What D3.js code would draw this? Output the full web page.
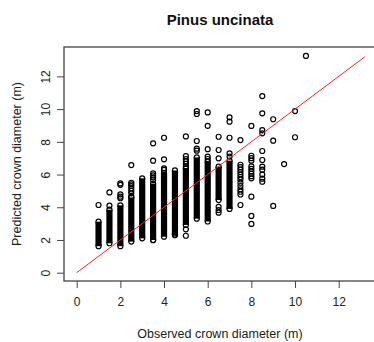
<!DOCTYPE html>
<html>
<head>
<meta charset="utf-8">
<script src="https://cdn.jsdelivr.net/npm/d3@7"></script>
<style>
body { margin: 0; background: #fff; }
svg { display: block; font-family: "Liberation Sans", Arial, sans-serif; }
.tick text { fill: #222; font-size: 12px; }
</style>
</head>
<body>
<script>
// dense columns of overlapping circles (observed value, low / high predicted)
var bandObs  = [1, 1.5, 2, 2.5, 3, 3.5, 4, 4.5, 5, 5.5, 6, 6.5, 7];
var bandLow  = [1.62, 1.8, 1.62, 1.9, 2.1, 2.0, 2.2, 2.3, 2.92, 3.3, 3.13, 4.44, 3.9];
var bandHigh = [3.12, 3.85, 4.12, 4.6, 5.77, 5.45, 6.1, 6.25, 6.4, 7.05, 6.8, 6.48, 6.85];

// single points outside the dense columns, grouped by observed value
var sparseObs = [1, 1.5, 2, 2.5, 3.5, 4, 4.5, 5, 5.5, 6, 6.5, 7, 7.5, 8, 8.5, 9, 9.5, 10, 10.5];
var sparsePred = [
    [4.14],
    [4.91, 4.10],
    [5.46, 5.37, 4.79, 4.65, 4.55],
    [6.58, 5.5, 5.4, 5.3, 5.15, 5.0, 4.85, 4.65],
    [7.91, 6.85, 6.07, 5.95, 5.83, 5.67, 1.99],
    [8.25, 6.93, 6.38, 6.28],
    [2.4, 2.3],
    [8.33, 7.13, 6.95, 6.8, 6.65, 6.5, 2.65, 2.26],
    [9.88, 9.7, 8.05, 7.58, 7.46],
    [9.8, 8.98, 7.55, 7.09, 6.95],
    [8.31, 7.5, 6.99, 4.03, 3.83, 3.67],
    [9.5, 9.23, 8.25, 7.3, 7.1],
    [8.11, 6.6, 6.45, 6.3, 6.15, 6.0, 5.85, 5.7, 5.5, 5.3, 5.1, 4.95, 4.78, 4.14],
    [8.97, 7.15, 7.0, 6.85, 6.5, 6.35, 6.2, 6.05, 5.9, 5.77, 4.65, 3.47, 2.98],
    [10.8, 9.74, 8.72, 8.52, 7.44, 6.89, 6.48, 6.3, 6.0, 5.75, 5.56],
    [9.38, 8.07, 4.08],
    [6.64],
    [9.88, 8.28],
    [13.25]
];

var lineObs = [0, 13.2];
var linePred = [0, 13.2];

var xTicks = [0, 2, 4, 6, 8, 10, 12];
var yTicks = [0, 2, 4, 6, 8, 10, 12];

var W = 374, H = 342;
var box = {left: 64, top: 47, right: 400, bottom: 281};
var r = 2.5;

var x = d3.scaleLinear().domain([0, 12]).range([76.7, 338.7]);
var y = d3.scaleLinear().domain([0, 12]).range([272.7, 76.4]);

var svg = d3.select("body").append("svg")
    .attr("width", W)
    .attr("height", H);

svg.append("rect")
    .attr("x", box.left)
    .attr("y", box.top)
    .attr("width", box.right - box.left)
    .attr("height", box.bottom - box.top)
    .attr("fill", "none")
    .attr("stroke", "#444")
    .attr("stroke-width", 1.3);

var xAxis = svg.append("g")
    .attr("transform", "translate(0," + box.bottom + ")")
    .call(d3.axisBottom(x).tickValues(xTicks).tickSize(7).tickPadding(9).tickFormat(d3.format("d")));
xAxis.select(".domain").remove();
xAxis.selectAll(".tick line").attr("stroke", "#444");

var yAxis = svg.append("g")
    .attr("transform", "translate(" + box.left + ",0)")
    .call(d3.axisLeft(y).tickValues(yTicks).tickSize(7).tickFormat(d3.format("d")));
yAxis.select(".domain").remove();
yAxis.selectAll(".tick line").attr("stroke", "#444");
yAxis.selectAll(".tick text")
    .attr("x", null).attr("dy", null)
    .attr("text-anchor", "middle")
    .attr("transform", "translate(-14,0) rotate(-90)");

var pts = svg.append("g");

// dense columns
pts.selectAll(".band")
    .data(bandObs)
    .enter().append("line")
    .attr("class", "band")
    .attr("x1", function(d) { return x(d); })
    .attr("x2", function(d) { return x(d); })
    .attr("y1", function(d, i) { return y(bandLow[i]); })
    .attr("y2", function(d, i) { return y(bandHigh[i]); })
    .attr("stroke", "#000")
    .attr("stroke-width", 2 * r + 1.2);

var circ = [];
bandObs.forEach(function(d, i) {
    circ.push([d, bandLow[i]]);
    circ.push([d, bandHigh[i]]);
});
sparseObs.forEach(function(d, i) {
    sparsePred[i].forEach(function(v) { circ.push([d, v]); });
});

pts.selectAll(".pt")
    .data(circ)
    .enter().append("circle")
    .attr("class", "pt")
    .attr("cx", function(d) { return x(d[0]); })
    .attr("cy", function(d) { return y(d[1]); })
    .attr("r", r)
    .attr("fill", "none")
    .attr("stroke", "#000")
    .attr("stroke-width", 1.2);

svg.append("path")
    .datum(lineObs.map(function(d, i) { return [x(d), y(linePred[i])]; }))
    .attr("d", d3.line())
    .attr("fill", "none")
    .attr("stroke", "#ff2020")
    .attr("stroke-width", 1);

svg.append("text")
    .attr("x", 220)
    .attr("y", 25)
    .attr("text-anchor", "middle")
    .attr("font-weight", "bold")
    .attr("font-size", 15)
    .attr("fill", "#111")
    .text("Pinus uncinata");

svg.append("text")
    .attr("x", 220)
    .attr("y", 338)
    .attr("text-anchor", "middle")
    .attr("font-size", 12.5)
    .attr("fill", "#222")
    .text("Observed crown diameter (m)");

svg.append("text")
    .attr("transform", "translate(21,164) rotate(-90)")
    .attr("text-anchor", "middle")
    .attr("font-size", 12.5)
    .attr("fill", "#222")
    .text("Predicted crown diameter (m)");
</script>
</body>
</html>
